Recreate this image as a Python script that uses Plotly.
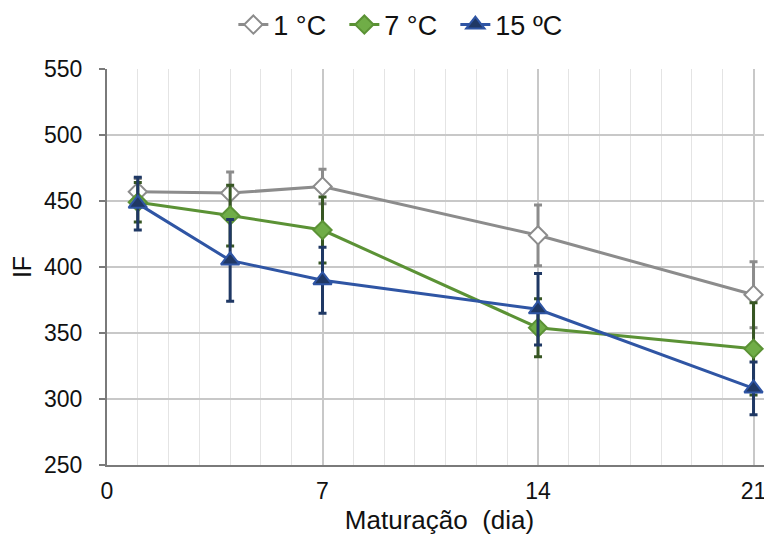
import plotly.graph_objects as go

days = [1, 4, 7, 14, 21]
series_names = ["1 °C", "7 °C", "15 ºC"]
if_1c = [457, 456, 461, 424, 379]
err_1c = [10, 16, 13, 23, 25]
if_7c = [449, 439, 428, 354, 338]
err_7c = [15, 23, 25, 22, 35]
if_15c = [448, 405, 390, 368, 308]
err_15c = [20, 31, 25, 27, 20]

x_ticks = [0, 7, 14, 21]
y_ticks = [250, 300, 350, 400, 450, 500, 550]

styles = [
    dict(line="#8c8c8c", err="#8c8c8c", fill="white", outline="#8c8c8c", symbol="diamond", size=14),
    dict(line="#5b9235", err="#375623", fill="#70ad47", outline="#5b9235", symbol="diamond", size=14),
    dict(line="#2f55a4", err="#1f3864", fill="#203864", outline="#2f55a4", symbol="triangle-up", size=16),
]

fig = go.Figure()
for name, vals, errs, st in zip(series_names, [if_1c, if_7c, if_15c], [err_1c, err_7c, err_15c], styles):
    fig.add_trace(go.Scatter(
        x=days, y=vals, name=name, mode="lines+markers",
        line=dict(color=st["line"], width=3),
        marker=dict(symbol=st["symbol"], size=st["size"], color=st["fill"],
                    line=dict(color=st["outline"], width=2)),
        error_y=dict(type="data", array=errs, visible=True, color=st["err"],
                     thickness=3, width=4),
    ))

font_family = "Liberation Sans, Arial, sans-serif"
fig.update_layout(
    width=764, height=534,
    margin=dict(l=99, r=0, t=61, b=77, autoexpand=False),
    paper_bgcolor="white", plot_bgcolor="white",
    font=dict(family=font_family, color="#222222"),
    showlegend=True,
    legend=dict(orientation="h", x=0.19, xanchor="left", y=1.111, yanchor="middle",
                font=dict(size=27, color="#111111"), itemwidth=30, tracegroupgap=0,
                entrywidth=66, entrywidthmode="pixels",
                bgcolor="rgba(0,0,0,0)"),
    xaxis=dict(range=[0, 21.6], tickvals=x_ticks, ticktext=[str(v) for v in x_ticks],
               automargin=False,
               showgrid=True, gridcolor="#c8c8c8", gridwidth=2,
               minor=dict(dtick=1, tick0=0, showgrid=True, gridcolor="#e4e4e4", gridwidth=1),
               showline=True, linecolor="#7a7a7a", linewidth=2,
               ticks="outside", ticklen=4, tickcolor="rgba(0,0,0,0)",
               tickfont=dict(size=23, color="#111111"), zeroline=False,
               title=dict(text="Maturação  (dia)", font=dict(size=26, color="#111111"), standoff=8)),
    yaxis=dict(range=[250, 550], tickvals=y_ticks,
               automargin=False,
               showgrid=True, gridcolor="#c8c8c8", gridwidth=2,
               showline=True, linecolor="#7a7a7a", linewidth=2,
               ticks="outside", ticklen=6, tickcolor="#7a7a7a", tickwidth=2,
               ticklabelstandoff=12,
               tickfont=dict(size=23, color="#111111"), zeroline=False,
               title=dict(text="IF", font=dict(size=25, color="#111111"), standoff=10)),
)

fig.write_html("out.html")
